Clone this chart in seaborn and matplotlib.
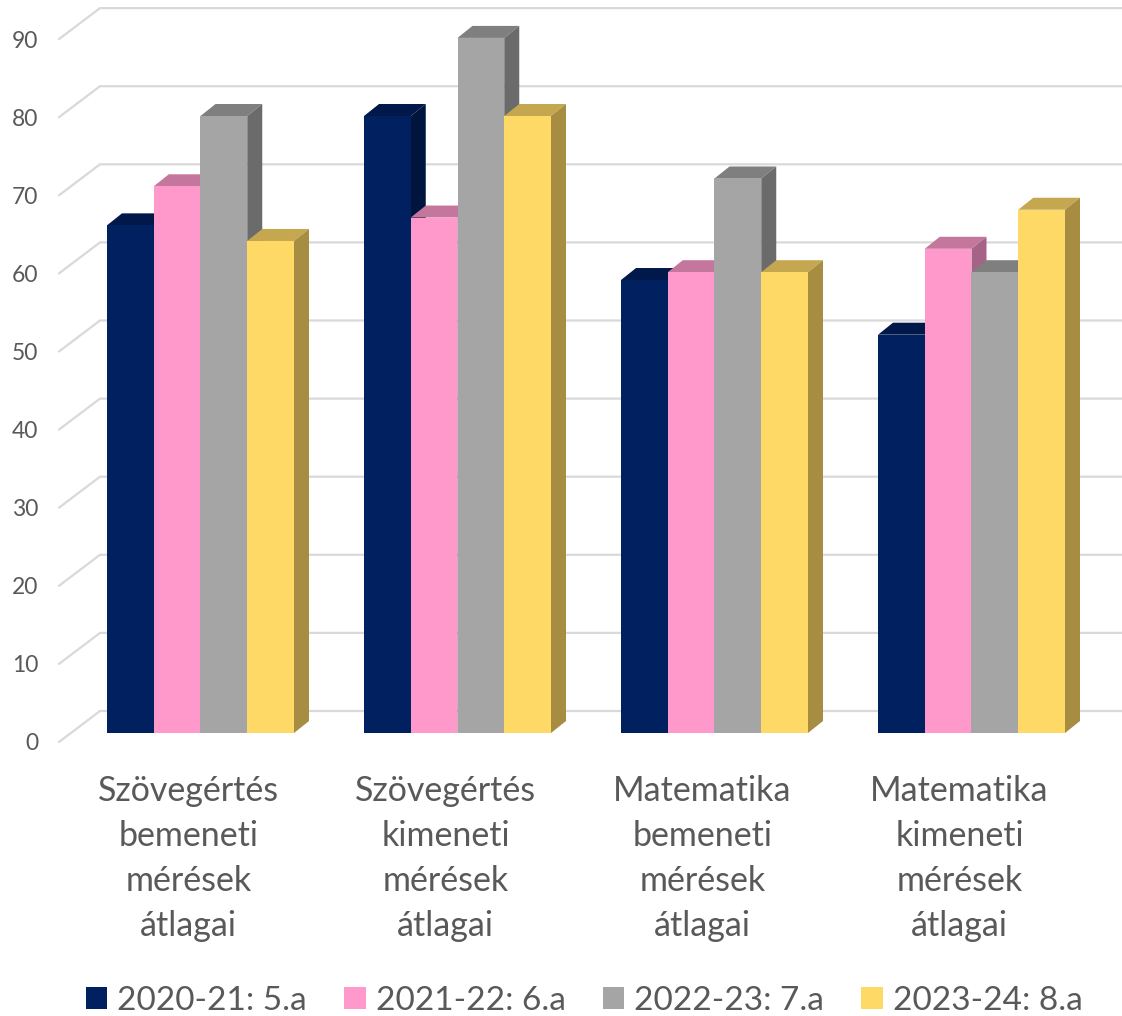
import numpy as np
import pandas as pd
import seaborn as sns
import matplotlib.pyplot as plt
from matplotlib.colors import to_rgb
from matplotlib.patches import Polygon
from matplotlib.transforms import ScaledTranslation

categories = ['Szövegértés\nbemeneti\nmérések\nátlagai', 'Szövegértés\nkimeneti\nmérések\nátlagai',
              'Matematika\nbemeneti\nmérések\nátlagai', 'Matematika\nkimeneti\nmérések\nátlagai']
years = ['2020-21: 5.a', '2021-22: 6.a', '2022-23: 7.a', '2023-24: 8.a']
vals_5a = [65, 79, 58, 51]
vals_6a = [70, 66, 59, 62]
vals_7a = [79, 89, 71, 59]
vals_8a = [63, 79, 59, 67]
colors = ['#002060', '#FF99CC', '#A5A5A5', '#FFD966']
ticks = np.arange(0, 100, 10)

W, H = 1122, 1016
PX_X = 257.0   # pixels per category
PX_Y = 7.81    # pixels per value unit
TEXT = '#595959'
GRID = '#D9D9D9'

sns.set_theme(style='white')
plt.rcParams['font.family'] = ['Lato', 'DejaVu Sans']

df = pd.DataFrame({'cat': np.repeat(categories, 4),
                   'year': years * 4,
                   'val': np.array([vals_5a, vals_6a, vals_7a, vals_8a]).T.ravel()})

fig = plt.figure(figsize=(W / 100, H / 100), dpi=100)
# axes run from the front edge of the floor (px 742) to the top of the image
ax = fig.add_axes([59 / W, 1 - 742 / H, 1 - 59 / W, 742 / H])

sns.barplot(data=df, x='cat', y='val', hue='year', hue_order=years, palette=colors,
            width=187 / PX_X, saturation=1, gap=0, linewidth=0, errorbar=None, ax=ax)

ax.set_xlim((59 - 200.5) / PX_X, (W - 200.5) / PX_X)
ax.set_ylim(-9 / PX_Y, 733 / PX_Y)
sns.despine(ax=ax, left=True, bottom=True)

# fake 3d depth of the bars
dx, dy = 15 / PX_X, 12 / PX_Y
bars = [b for c in ax.containers for b in c]
bars.sort(key=lambda b: b.get_x())
for i, b in enumerate(bars):
    x0, x1, top = b.get_x(), b.get_x() + b.get_width(), b.get_height()
    rgb = np.array(to_rgb(b.get_facecolor()))
    z = 3 + i
    b.set_zorder(z + 0.5)
    ax.add_patch(Polygon([(x0, top), (x1, top), (x1 + dx, top + dy), (x0 + dx, top + dy)],
                         fc=rgb * 0.77, lw=0, zorder=z))
    ax.add_patch(Polygon([(x1, 0), (x1 + dx, dy), (x1 + dx, top + dy), (x1, top)],
                         fc=rgb * 0.65, lw=0, zorder=z))

# back wall gridlines with the slanted bit on the left side
wall_x = (100 - 200.5) / PX_X
wall_dy = 22 / PX_Y
front_dy = -9 / PX_Y
for t in ticks:
    ax.plot([ax.get_xlim()[0], wall_x, ax.get_xlim()[1]],
            [t + front_dy, t + wall_dy, t + wall_dy],
            color=GRID, lw=1.6, zorder=1, solid_joinstyle='miter', clip_on=False)

ax.set_yticks(ticks + front_dy, [str(t) for t in ticks])
ax.set_xlabel('')
ax.set_ylabel('')
ax.tick_params(axis='y', length=0, pad=15, labelsize=16.5, labelcolor=TEXT)
ax.tick_params(axis='x', length=0, pad=24, labelsize=24.5, labelcolor=TEXT)
# category labels sit a bit left of the bar groups
shift = ScaledTranslation(-12 / 100, 0, fig.dpi_scale_trans)
for lab in ax.get_xticklabels():
    lab.set_linespacing(1.5)
    lab.set_verticalalignment('top')
    lab.set_transform(lab.get_transform() + shift)

sns.move_legend(ax, 'lower left', bbox_to_anchor=(86 / W, 0.0), bbox_transform=fig.transFigure,
                ncol=4, frameon=False, title=None, fontsize=24, labelcolor=TEXT,
                handlelength=0.64, handleheight=0.64, handletextpad=0.3, columnspacing=1.12,
                borderpad=0, borderaxespad=0, labelspacing=0)

fig.savefig('out.png', dpi=100, facecolor='white')
